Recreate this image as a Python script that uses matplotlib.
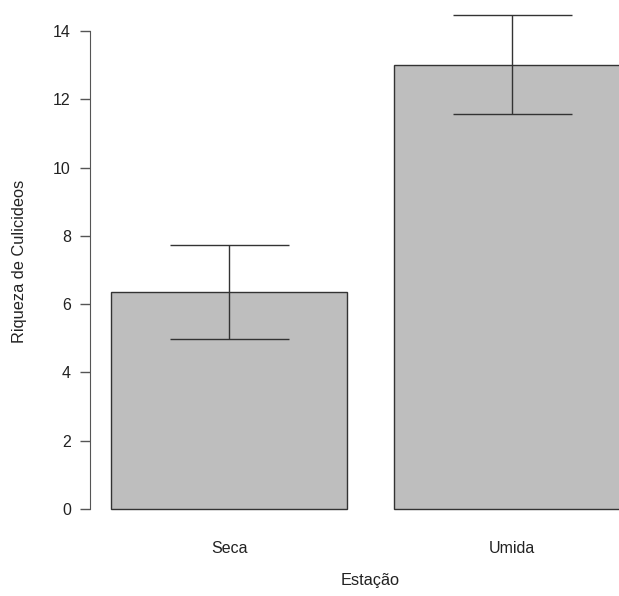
import matplotlib
matplotlib.use("Agg")
import matplotlib.pyplot as plt

# data
estacoes = ["Seca", "Umida"]
riqueza = [6.36, 13.02]
erro = [1.37, 1.45]
y_ticks = [0, 2, 4, 6, 8, 10, 12, 14]

plt.rcParams["font.family"] = ["Liberation Sans", "DejaVu Sans"]
W, H = 619, 596

fig = plt.figure(figsize=(W / 100, H / 100), dpi=100)
# axes reaches past the right edge, as in the cropped reference
ax = fig.add_axes([90.2 / W, 0.1128, 561 / W, 1 - 0.1128])

# R barplot layout: width 1, space 0.2
centers = [0.7, 1.9]
ax.bar(centers, riqueza, width=1.0, color="#bebebe",
       edgecolor="#333333", linewidth=1.0, zorder=1)
ax.errorbar(centers, riqueza, yerr=erro, fmt="none", ecolor="#333333",
            elinewidth=1.0, capsize=59.5 * 0.72, capthick=1.0, zorder=2)

ax.set_xlim(0.112, 2.488)
ax.set_ylim(-0.58, 14.91)

for side in ["top", "right", "bottom"]:
    ax.spines[side].set_visible(False)
ax.spines["left"].set_bounds(0, 14)
ax.spines["left"].set_color("#555555")

ax.set_yticks(y_ticks)
ax.tick_params(axis="y", length=7, width=1, color="#555555",
               labelsize=11.5, labelcolor="#222222", pad=7)
ax.set_xticks(centers)
ax.set_xticklabels(estacoes, fontsize=11.5, color="#222222")
ax.tick_params(axis="x", length=0, pad=9)

fig.text(20 / W, 1 - 261 / H, "Riqueza de Culicideos", fontsize=11.8,
         color="#222222", rotation=90, ha="center", va="center")
fig.text(370 / W, 1 - 580 / H, "Estação", fontsize=11.8,
         color="#222222", ha="center", va="center")

fig.savefig("out.png", dpi=100)
